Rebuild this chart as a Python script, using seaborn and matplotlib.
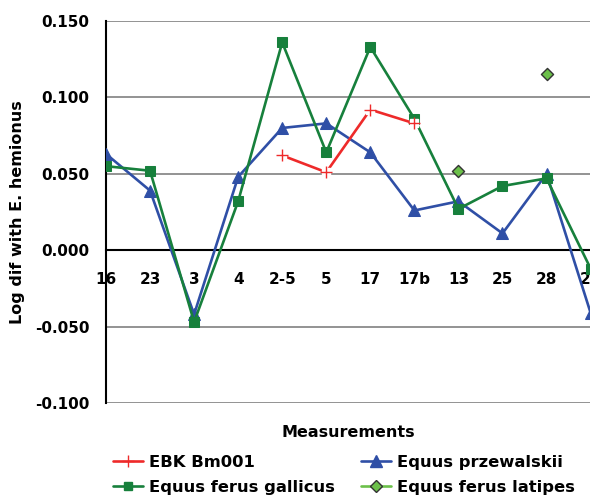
import numpy as np
import pandas as pd
import matplotlib
matplotlib.use("Agg")
import matplotlib.pyplot as plt
from matplotlib.lines import Line2D
from matplotlib.ticker import FormatStrFormatter
import seaborn as sns

nan = np.nan
measures = ["16", "23", "3", "4", "2-5", "5", "17", "17b", "13", "25", "28", "26"]
ebk = [nan, nan, nan, nan, 0.062, 0.051, 0.092, 0.083, nan, nan, nan, nan]
przewalskii = [0.063, 0.039, -0.042, 0.048, 0.080, 0.083, 0.064, 0.026, 0.032, 0.011, 0.050, -0.041]
gallicus = [0.055, 0.052, -0.047, 0.032, 0.136, 0.064, 0.133, 0.086, 0.027, 0.042, 0.047, -0.012]
latipes = [nan, nan, nan, nan, nan, nan, nan, nan, 0.052, nan, 0.115, nan]

red = "#ee2a2a"
blue = "#2f4fa6"
dgreen = "#17803c"
lgreen = "#6cc04a"

sns.set_style("white")
plt.rcParams["font.family"] = ["DejaVu Sans"]
plt.rcParams["font.weight"] = "bold"
for k in ["text.color", "axes.labelcolor", "xtick.color", "ytick.color"]:
    plt.rcParams[k] = "black"

df = pd.DataFrame({"pos": np.arange(len(measures)), "ebk": ebk, "prz": przewalskii,
                   "gal": gallicus, "lat": latipes})

fig = plt.figure(figsize=(5.9, 5.0), dpi=100)
ax = fig.add_axes([106 / 590, 97 / 500, 489 / 590, 382 / 500])

# lines
sns.lineplot(data=df, x="pos", y="prz", color=blue, lw=1.9, marker="^", markersize=8,
             markeredgecolor=blue, ax=ax, zorder=3)
sns.lineplot(data=df, x="pos", y="gal", color=dgreen, lw=1.9, marker="s", markersize=7,
             markeredgecolor=dgreen, ax=ax, zorder=4)
sns.lineplot(data=df, x="pos", y="ebk", color=red, lw=1.9, ax=ax, zorder=5)
ax.plot(df["pos"], df["ebk"], ls="none", marker="s", markersize=6, color="white", zorder=5.5)
ax.plot(df["pos"], df["ebk"], ls="none", marker="+", markersize=8, mew=1.0, color=red, zorder=6)
sns.scatterplot(data=df, x="pos", y="lat", color=lgreen, marker="D", s=38, edgecolor="#333333",
                linewidth=1, ax=ax, zorder=7)

ax.set_xlim(0, 11.1)
ax.set_ylim(-0.1, 0.15)
ax.set_yticks([-0.1, -0.05, 0, 0.05, 0.1, 0.15])
ax.yaxis.set_major_formatter(FormatStrFormatter("%.3f"))
ax.set_xticks(df["pos"])
ax.set_xticklabels(measures)
ax.grid(axis="y", color="#808080", lw=1.2)
ax.grid(axis="x", visible=False)

for s in ["top", "right"]:
    ax.spines[s].set_visible(False)
ax.spines["left"].set_color("black")
ax.spines["left"].set_linewidth(1.5)
ax.spines["bottom"].set_position(("data", 0))
ax.spines["bottom"].set_color("black")
ax.spines["bottom"].set_linewidth(1.5)
ax.spines["bottom"].set_zorder(2.5)

ax.tick_params(axis="x", direction="out", length=5, width=1.5, pad=11, labelsize=11)
ax.tick_params(axis="y", direction="out", length=5, width=1.5, pad=7, labelsize=11)
for lab in ax.get_xticklabels() + ax.get_yticklabels():
    lab.set_fontweight("bold")

ax.set_xlabel("Measurements", fontsize=11.5, fontweight="bold")
ax.xaxis.set_label_coords(0.495, -0.058)
ax.set_ylabel("Log dif with E. hemionus", fontsize=11.5, fontweight="bold")
ax.yaxis.set_label_coords(-0.165, 0.5)

# legend fills column-first, so order as EBK, gallicus | przewalskii, latipes
handles = [
    Line2D([], [], color=red, lw=1.9, marker="+", markersize=8, mew=1.0),
    Line2D([], [], color=dgreen, lw=1.9, marker="s", markersize=6),
    Line2D([], [], color=blue, lw=1.9, marker="^", markersize=8),
    Line2D([], [], color=lgreen, lw=1.9, marker="D", markersize=6, markeredgecolor="#333333"),
]
labels = ["EBK Bm001", "Equus ferus gallicus", "Equus przewalskii", "Equus ferus latipes"]
fig.legend(handles, labels, loc="upper left", bbox_to_anchor=(113 / 590, 1 - 455 / 500),
           ncol=2, frameon=False, borderpad=0, borderaxespad=0, handlelength=1.8,
           handletextpad=0.4, columnspacing=1.6, labelspacing=0.6,
           prop={"weight": "bold", "size": 11.8})

fig.savefig("out.png", dpi=100)
